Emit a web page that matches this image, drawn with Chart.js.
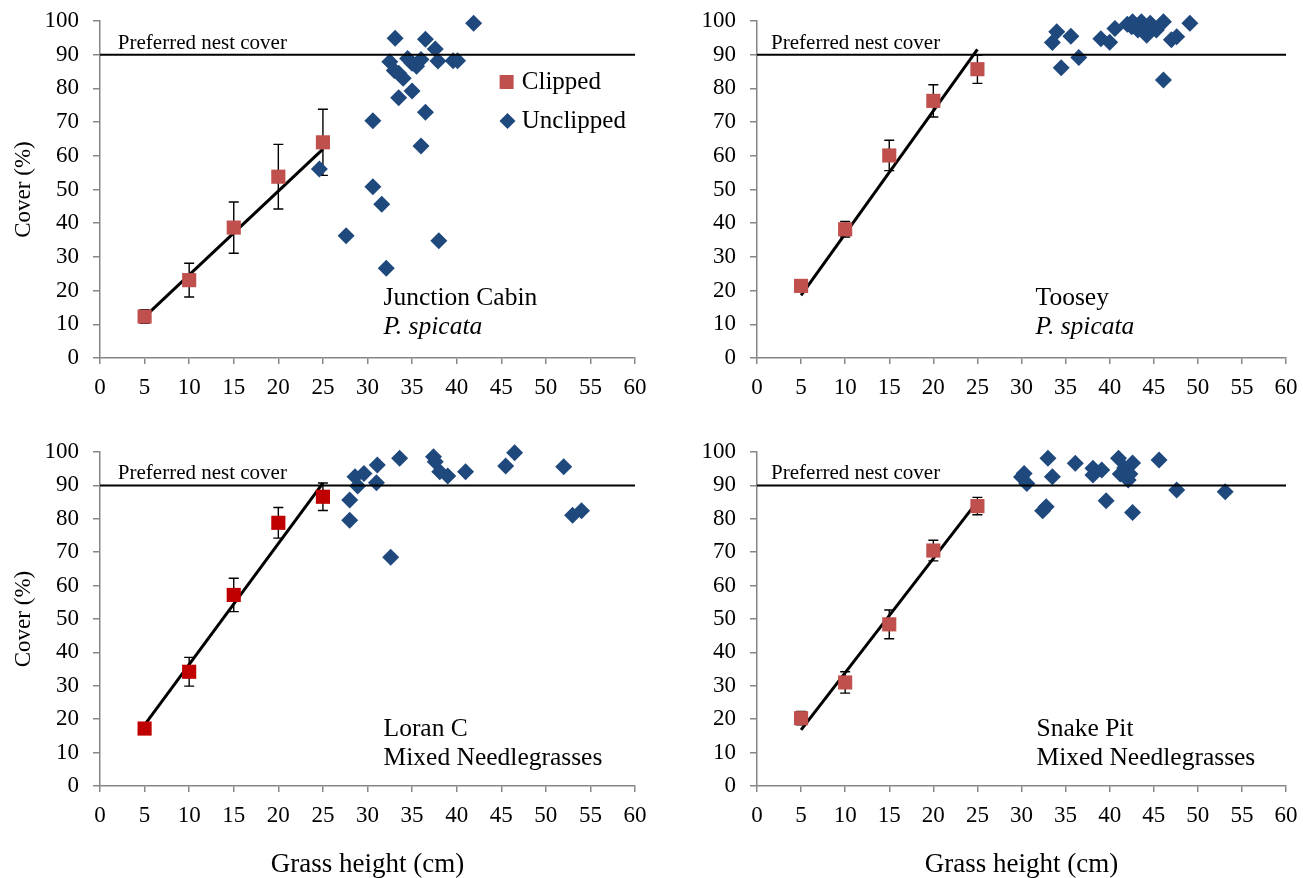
<!DOCTYPE html>
<html>
<head>
<meta charset="utf-8">
<title>Cover vs grass height</title>
<script src="https://cdn.jsdelivr.net/npm/chart.js@4.4.1/dist/chart.umd.min.js"></script>
<style>
  body { margin: 0; background: #fff; overflow: hidden; }
  canvas { position: absolute; }
</style>
</head>
<body>
<canvas id="jc" width="657" height="430" style="left:0;top:-10px"></canvas>
<canvas id="toosey" width="658" height="430" style="left:650px;top:-10px"></canvas>
<canvas id="loran" width="657" height="458" style="left:0;top:420px"></canvas>
<canvas id="snake" width="658" height="458" style="left:650px;top:420px"></canvas>
<script>
// clipped plots: same heights at every site
const clippedHeight = [5, 10, 15, 20, 25];
const fitHeight = [5, 25];
const nestHeight = [0, 60];
const nestCover = 90;

// Junction Cabin
const jcClipped = [12.3, 23.1, 38.7, 53.8, 64.0];
const jcError = [2.0, 5.0, 7.6, 9.6, 9.8];
const jcFit = [12.2, 62.0];
const jcHeight = [24.6, 27.6, 30.6, 30.6, 31.6, 32.1, 32.5, 33.1, 33.0, 33.5, 33.5, 34.0, 34.5, 35.0, 35.0, 35.5, 36.0, 36.0, 36.5, 36.5, 37.6, 37.9, 38.0, 39.6, 40.1, 41.9];
const jcCover = [56.1, 36.3, 70.4, 50.8, 45.6, 26.6, 87.9, 94.9, 85.3, 77.2, 84.5, 83.0, 88.9, 79.2, 87.5, 86.6, 88.6, 62.9, 94.6, 72.9, 91.7, 88.1, 34.8, 88.2, 88.2, 99.3];

// Toosey
const tooseyClipped = [21.4, 38.2, 60.1, 76.3, 85.7];
const tooseyError = [1.2, 2.3, 4.5, 4.8, 4.2];
const tooseyFit = [18.6, 91.6];
const tooseyHeight = [33.5, 34.0, 34.5, 35.6, 36.5, 39.0, 40.0, 40.6, 42.0, 42.5, 42.6, 43.0, 43.2, 43.6, 44.0, 44.2, 44.6, 45.3, 46.1, 46.1, 47.0, 47.6, 49.1];
const tooseyCover = [93.6, 96.8, 86.1, 95.5, 89.2, 94.7, 93.7, 97.8, 99.0, 98.3, 99.8, 98.5, 97.3, 99.8, 96.5, 95.8, 99.3, 97.3, 99.8, 82.5, 94.4, 95.3, 99.3];

// Loran C
const loranClipped = [17.2, 34.2, 57.2, 78.8, 86.6];
const loranError = [1.5, 4.3, 5.0, 4.6, 4.1];
const loranFit = [18.3, 90.7];
const loranHeight = [28.0, 28.0, 28.6, 28.9, 29.6, 31.0, 31.1, 32.6, 33.6, 37.4, 37.6, 38.1, 39.0, 41.0, 45.5, 46.5, 52.0, 53.0, 54.0];
const loranCover = [85.6, 79.6, 92.6, 89.8, 93.6, 90.8, 96.1, 68.5, 98.1, 98.6, 97.1, 94.1, 92.8, 94.1, 95.8, 99.8, 95.6, 81.1, 82.4];

// Snake Pit
const snakeClipped = [20.3, 31.0, 48.4, 70.5, 83.8];
const snakeError = [2.0, 3.2, 4.3, 3.1, 2.6];
const snakeFit = [16.8, 85.2];
const snakeHeight = [30.0, 30.3, 30.6, 32.4, 32.8, 33.0, 33.5, 36.1, 38.1, 38.1, 39.1, 39.6, 41.0, 41.2, 41.7, 42.1, 42.3, 42.6, 42.6, 45.6, 47.6, 53.1];
const snakeCover = [92.5, 93.6, 90.6, 82.4, 83.6, 98.1, 92.6, 96.6, 95.1, 93.1, 94.6, 85.4, 98.1, 93.4, 95.2, 91.6, 93.4, 96.7, 81.9, 97.6, 88.6, 88.1];

const serif = "'Liberation Serif', 'Times New Roman', serif";
const axisGray = "#868686";
const unclippedBlue = "#1F497D";

Chart.defaults.font.family = serif;
Chart.defaults.color = "#000";

const panels = [
  { id: "jc", site: "Junction Cabin", grass: "P. spicata", italic: true,
    clipped: jcClipped, error: jcError, fit: jcFit, height: jcHeight, cover: jcCover,
    color: "#C0504D", yWidth: 100, padTop: 31, padRight: 22, xHeight: 62,
    yTitle: true, xTitle: false, legend: true, noteX: 2.0, siteX: 31.8, siteY: [17.8, 9.2] },
  { id: "toosey", site: "Toosey", grass: "P. spicata", italic: true,
    clipped: tooseyClipped, error: tooseyError, fit: tooseyFit, height: tooseyHeight, cover: tooseyCover,
    color: "#C0504D", yWidth: 107, padTop: 31, padRight: 22, xHeight: 62,
    yTitle: false, xTitle: false, legend: false, noteX: 1.6, siteX: 31.6, siteY: [17.8, 9.2] },
  { id: "loran", site: "Loran C", grass: "Mixed Needlegrasses", italic: false,
    clipped: loranClipped, error: loranError, fit: loranFit, height: loranHeight, cover: loranCover,
    color: "#C00000", yWidth: 100, padTop: 32, padRight: 22, xHeight: 92,
    yTitle: true, xTitle: true, legend: false, noteX: 2.0, siteX: 31.8, siteY: [17.1, 8.4] },
  { id: "snake", site: "Snake Pit", grass: "Mixed Needlegrasses", italic: false,
    clipped: snakeClipped, error: snakeError, fit: snakeFit, height: snakeHeight, cover: snakeCover,
    color: "#C0504D", yWidth: 107, padTop: 32, padRight: 22, xHeight: 92,
    yTitle: false, xTitle: true, legend: false, noteX: 1.6, siteX: 31.7, siteY: [17.1, 8.4] }
];

function toPoints(xs, ys) {
  return xs.map((v, i) => ({ x: v, y: ys[i] }));
}

function drawSquare(ctx, x, y, side, color) {
  ctx.fillStyle = color;
  ctx.fillRect(x - side / 2, y - side / 2, side, side);
}

function drawDiamond(ctx, x, y, r, color) {
  ctx.fillStyle = color;
  ctx.beginPath();
  ctx.moveTo(x - r, y);
  ctx.lineTo(x, y - r);
  ctx.lineTo(x + r, y);
  ctx.lineTo(x, y + r);
  ctx.closePath();
  ctx.fill();
}

// error bars under the squares, text and legend on top
function extrasPlugin(p) {
  return {
    id: "extras",
    beforeDatasetsDraw(chart) {
      const { ctx, scales: { x, y } } = chart;
      ctx.save();
      ctx.strokeStyle = "#000";
      ctx.lineWidth = 1.4;
      clippedHeight.forEach((h, i) => {
        const px = x.getPixelForValue(h);
        const top = y.getPixelForValue(p.clipped[i] + p.error[i]);
        const bottom = y.getPixelForValue(p.clipped[i] - p.error[i]);
        ctx.beginPath();
        ctx.moveTo(px, top);
        ctx.lineTo(px, bottom);
        ctx.moveTo(px - 5, top);
        ctx.lineTo(px + 5, top);
        ctx.moveTo(px - 5, bottom);
        ctx.lineTo(px + 5, bottom);
        ctx.stroke();
      });
      ctx.restore();
    },
    afterDraw(chart) {
      const { ctx, scales: { x, y } } = chart;
      ctx.save();
      ctx.fillStyle = "#000";
      ctx.textAlign = "left";
      ctx.textBaseline = "alphabetic";
      ctx.font = "21px " + serif;
      ctx.fillText("Preferred nest cover", x.getPixelForValue(p.noteX), y.getPixelForValue(nestCover) - 6);

      ctx.textBaseline = "middle";
      ctx.font = "25.5px " + serif;
      ctx.fillText(p.site, x.getPixelForValue(p.siteX), y.getPixelForValue(p.siteY[0]));
      ctx.font = (p.italic ? "italic " : "") + "25.5px " + serif;
      ctx.fillText(p.grass, x.getPixelForValue(p.siteX), y.getPixelForValue(p.siteY[1]));

      if (p.legend) {
        ctx.font = "25px " + serif;
        drawSquare(ctx, x.getPixelForValue(45.6), y.getPixelForValue(81.9), 14, p.color);
        drawDiamond(ctx, x.getPixelForValue(45.7), y.getPixelForValue(70.3), 8, unclippedBlue);
        ctx.fillStyle = "#000";
        ctx.fillText("Clipped", x.getPixelForValue(47.3), y.getPixelForValue(81.9));
        ctx.fillText("Unclipped", x.getPixelForValue(47.3), y.getPixelForValue(70.3));
      }
      ctx.restore();
    }
  };
}

function makePanel(p) {
  const tickFont = { family: serif, size: 23 };
  return new Chart(document.getElementById(p.id), {
    type: "scatter",
    data: {
      datasets: [
        {
          label: "Preferred nest cover",
          data: toPoints(nestHeight, nestHeight.map(() => nestCover)),
          showLine: true,
          borderColor: "#000",
          borderWidth: 2,
          pointRadius: 0,
          clip: false,
          order: 0
        },
        {
          label: "Unclipped",
          data: toPoints(p.height, p.cover),
          pointStyle: "rectRot",
          pointRadius: 8.5,
          backgroundColor: unclippedBlue,
          borderColor: unclippedBlue,
          borderWidth: 0,
          clip: false,
          order: 1
        },
        {
          label: "Clipped",
          data: toPoints(clippedHeight, p.clipped),
          pointStyle: "rect",
          pointRadius: 10,
          backgroundColor: p.color,
          borderColor: p.color,
          borderWidth: 0,
          clip: false,
          order: 2
        },
        {
          label: "Fit",
          data: toPoints(fitHeight, p.fit),
          showLine: true,
          borderColor: "#000",
          borderWidth: 3,
          pointRadius: 0,
          clip: false,
          order: 3
        }
      ]
    },
    options: {
      responsive: false,
      animation: false,
      events: [],
      layout: { padding: { top: p.padTop, right: p.padRight, bottom: 0, left: 0 } },
      plugins: { legend: { display: false }, tooltip: { enabled: false } },
      scales: {
        x: {
          type: "linear",
          min: 0,
          max: 60,
          afterFit: s => { s.height = p.xHeight; },
          ticks: { stepSize: 5, font: tickFont, color: "#000", padding: 10, maxRotation: 0 },
          grid: { drawOnChartArea: false, tickLength: 6, color: axisGray, lineWidth: 1.5 },
          border: { color: axisGray, width: 1.5 },
          title: { display: p.xTitle, text: "Grass height (cm)", color: "#000",
                   font: { family: serif, size: 27, lineHeight: 1 }, padding: { top: 0, bottom: 0 } }
        },
        y: {
          min: 0,
          max: 100,
          afterFit: s => { s.width = p.yWidth; },
          ticks: { stepSize: 10, font: tickFont, color: "#000", padding: 14 },
          grid: { drawOnChartArea: false, tickLength: 7, color: axisGray, lineWidth: 1.5 },
          border: { color: axisGray, width: 1.5 },
          title: { display: p.yTitle, text: "Cover (%)", color: "#000",
                   font: { family: serif, size: 23 }, padding: { top: 10, bottom: 0 } }
        }
      }
    },
    plugins: [extrasPlugin(p)]
  });
}

panels.forEach(makePanel);
</script>
</body>
</html>
